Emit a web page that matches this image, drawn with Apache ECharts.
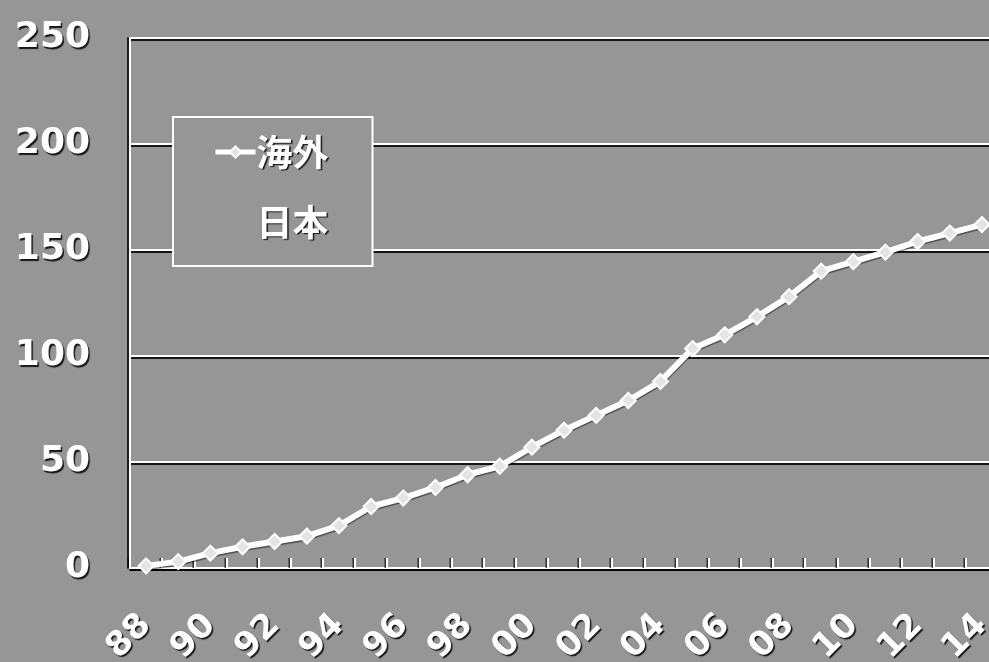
<!DOCTYPE html>
<html>
<head>
<meta charset="utf-8">
<script src="https://cdn.jsdelivr.net/npm/echarts@6/dist/echarts.min.js"></script>
<style>
html,body{margin:0;padding:0;background:#969696;}
#c{width:989px;height:662px;}
</style>
</head>
<body>
<div id="c"></div>
<script>
const years = ['88','89','90','91','92','93','94','95','96','97','98','99','00','01','02','03','04','05','06','07','08','09','10','11','12','13','14'];
const kaigai = [1,3,7,10,12.5,15,20,29,33,38,44,48,57,65,72,79,88,103.5,110,118.5,128,140,144.5,149,154,158,162];
const nihon = [];
const yMin = 0, yMax = 250, yStep = 50;

const shadowText = {
  color: '#ffffff',
  fontWeight: 'bold',
  textShadowColor: 'rgba(0,0,0,0.85)',
  textShadowOffsetX: 1.5,
  textShadowOffsetY: 1.5,
  textShadowBlur: 1
};

const chart = echarts.init(document.getElementById('c'), null, {renderer: 'canvas'});
chart.setOption({
  backgroundColor: '#969696',
  animation: false,
  grid: {left: 130, top: 38, width: 868, height: 530, containLabel: false, outerBoundsMode: 'none'},
  legend: {
    orient: 'vertical',
    left: 173, top: 117,
    padding: [17, 44, 26, 40],
    itemWidth: 40, itemHeight: 14, itemGap: 34,
    backgroundColor: '#969696',
    borderColor: '#ffffff', borderWidth: 2,
    textStyle: Object.assign({}, shadowText, {fontSize: 36, lineHeight: 36, fontFamily: '"Noto Sans CJK JP", sans-serif', padding: [0,0,0,-4]}),
    data: [
      {name: '海外', lineStyle: {width: 5}},
      {name: '日本', icon: 'none'}
    ]
  },
  xAxis: {
    type: 'category',
    data: years,
    boundaryGap: true,
    axisLine: {show: true, lineStyle: {color: '#ffffff', width: 2, shadowColor: 'rgba(0,0,0,0.8)', shadowOffsetY: 2}},
    axisTick: {show: true, inside: true, length: 10, interval: 0, lineStyle: {color: '#ffffff', width: 2, shadowColor: 'rgba(0,0,0,0.7)', shadowOffsetX: -1.5}},
    axisLabel: Object.assign({}, shadowText, {
      interval: 1, rotate: 45, margin: 52, fontSize: 34,
      fontFamily: '"DejaVu Sans", sans-serif'
    }),
    splitLine: {show: false}
  },
  yAxis: {
    type: 'value',
    min: yMin, max: yMax, interval: yStep,
    axisLine: {show: true, lineStyle: {color: '#ffffff', width: 2, shadowColor: 'rgba(0,0,0,0.8)', shadowOffsetX: -2}},
    axisTick: {show: false},
    axisLabel: Object.assign({}, shadowText, {
      margin: 40, fontSize: 36, padding: [0, 0, 12, 0],
      fontFamily: '"DejaVu Sans", sans-serif'
    }),
    splitLine: {show: true, lineStyle: {color: '#ffffff', width: 2, shadowColor: 'rgba(0,0,0,0.85)', shadowOffsetY: 2, shadowBlur: 0}}
  },
  series: [
    {
      name: '海外',
      type: 'line',
      data: kaigai,
      symbol: 'diamond',
      symbolSize: 15,
      showAllSymbol: true,
      lineStyle: {color: '#ffffff', width: 6, shadowColor: 'rgba(0,0,0,0.5)', shadowOffsetY: 1.5, shadowBlur: 1},
      itemStyle: {color: '#e4e4e4', borderColor: '#ffffff', borderWidth: 2}
    },
    {
      name: '日本',
      type: 'line',
      data: nihon,
      symbol: 'none',
      lineStyle: {opacity: 0},
      itemStyle: {opacity: 0}
    }
  ]
});
</script>
</body>
</html>
